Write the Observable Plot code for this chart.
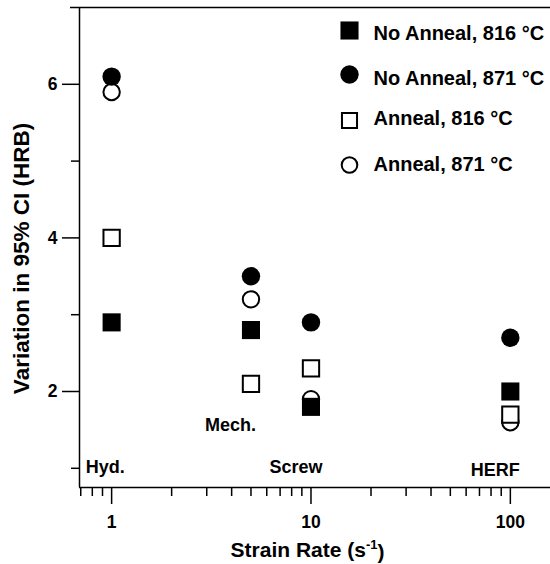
<!DOCTYPE html>
<html><head><meta charset="utf-8">
<script src="https://cdn.jsdelivr.net/npm/d3@7"></script>
<script src="https://cdn.jsdelivr.net/npm/@observablehq/plot@0.6"></script>
<style>
body{margin:0;background:#fff}
svg{font-family:"Liberation Sans",Arial,sans-serif;font-weight:bold}
</style>
</head><body><div id="chart"></div>
<script>
const strainRates = [1, 5, 10, 100];
const noAnneal816 = [2.9, 2.8, 1.8, 2.0];
const noAnneal871 = [6.1, 3.5, 2.9, 2.7];
const anneal816 = [4.0, 2.1, 2.3, 1.7];
const anneal871 = [5.9, 3.2, 1.9, 1.6];
const seriesNames = ["No Anneal, 816 °C", "No Anneal, 871 °C", "Anneal, 816 °C", "Anneal, 871 °C"];
const processLabels = ["Hyd.", "Mech.", "Screw", "HERF"];
const processX = [0.741, 3.95, 8.41, 84];
const processY = [1.01, 1.557, 1.02, 0.97];
const xMajorTicks = [1, 10, 100];
const xMinorTicks = [0.7, 0.8, 0.9, 2, 3, 4, 5, 6, 7, 8, 9, 20, 30, 40, 50, 60, 70, 80, 90];
const yMajorTicks = [2, 4, 6];
const yMinorTicks = [1, 3, 5];

const xDomain = [0.69, 159];
const yDomain = [0.75, 7];

const seriesValues = [noAnneal816, noAnneal871, anneal816, anneal871];
const styles = [
  {symbol: "square", fill: "black", stroke: "none", strokeWidth: 0, r: 10.2, lr: 10.2},
  {symbol: "circle", fill: "black", stroke: "none", strokeWidth: 0, r: 9.2, lr: 9.2},
  {symbol: "square", fill: "white", stroke: "black", strokeWidth: 2, r: 9.2, lr: 8.5},
  {symbol: "circle", fill: "white", stroke: "black", strokeWidth: 2, r: 8.2, lr: 7.8}
];
const drawOrder = [3, 2, 0, 1];
const legendMarkerDy = [23, 67, 113, 157.5];
const legendTextDy = [26, 71.5, 111.5, 157.5];

const marks = [];
// axis lines
marks.push(Plot.ruleY([yDomain[0]], {strokeWidth: 1.5}));
marks.push(Plot.ruleX([xDomain[0]], {strokeWidth: 1.5}));
marks.push(Plot.ruleY([yDomain[1]], {strokeWidth: 1.5, insetLeft: -9}));
// axes
marks.push(Plot.axisX({ticks: xMajorTicks, tickSize: 17, tickPadding: 11, fontSize: 17.5, strokeWidth: 1.5, tickFormat: d => String(d), label: null}));
marks.push(Plot.axisX({ticks: xMinorTicks, tickSize: 9, strokeWidth: 1.5, tickFormat: () => "", label: null}));
marks.push(Plot.axisY({ticks: yMajorTicks, tickSize: 17, tickPadding: 5, fontSize: 17.5, strokeWidth: 1.5, tickFormat: d => String(d), label: null}));
marks.push(Plot.axisY({ticks: yMinorTicks, tickSize: 8, strokeWidth: 1.5, tickFormat: () => "", label: null}));
// axis titles
marks.push(Plot.text(["Variation in 95% CI (HRB)"], {frameAnchor: "left", dx: -58, dy: 11, rotate: -90, textAnchor: "middle", lineAnchor: "middle", fontSize: 22.5, text: d => d}));
marks.push(Plot.text(["Strain Rate (s-1)"], {frameAnchor: "bottom", dx: -7.5, dy: 63, textAnchor: "middle", lineAnchor: "middle", fontSize: 21, text: d => d}));
// process labels
const procData = processLabels.map((t, i) => ({t, x: processX[i], y: processY[i]}));
marks.push(Plot.text(procData.slice(0, 1), {x: "x", y: "y", text: "t", textAnchor: "start", fontSize: 18}));
marks.push(Plot.text(procData.slice(1), {x: "x", y: "y", text: "t", fontSize: 18}));
// data
for (const s of drawOrder) {
  const st = styles[s];
  const data = strainRates.map((x, i) => ({x, y: seriesValues[s][i]}));
  marks.push(Plot.dot(data, {x: "x", y: "y", symbol: st.symbol, r: st.r, fill: st.fill, stroke: st.stroke, strokeWidth: st.strokeWidth}));
}
// legend
seriesNames.forEach((name, i) => {
  const st = styles[i];
  marks.push(Plot.dot([name], {frameAnchor: "top-left", dx: 270, dy: legendMarkerDy[i], symbol: st.symbol, r: st.lr, fill: st.fill, stroke: st.stroke, strokeWidth: st.strokeWidth}));
  marks.push(Plot.text([name], {frameAnchor: "top-left", dx: 294, dy: legendTextDy[i], text: d => d, textAnchor: "start", lineAnchor: "middle", fontSize: 20}));
});

const chart = Plot.plot({
  width: 550,
  height: 564,
  marginLeft: 79,
  marginRight: 0,
  marginTop: 7,
  marginBottom: 77,
  style: {fontFamily: "'Liberation Sans', Arial, sans-serif", fontWeight: "bold", background: "white", color: "black", overflow: "visible"},
  x: {type: "log", domain: xDomain},
  y: {domain: yDomain},
  marks
});
document.getElementById("chart").appendChild(chart);

// superscript for the unit
d3.select(chart).selectAll("text").each(function () {
  if (this.textContent === "Strain Rate (s-1)") {
    const t = d3.select(this);
    t.text("Strain Rate (s");
    t.append("tspan").attr("font-size", "13").attr("dy", "-0.6em").text("-1");
    t.append("tspan").attr("dy", "0.45em").text(")");
  }
});
</script>
</body></html>
